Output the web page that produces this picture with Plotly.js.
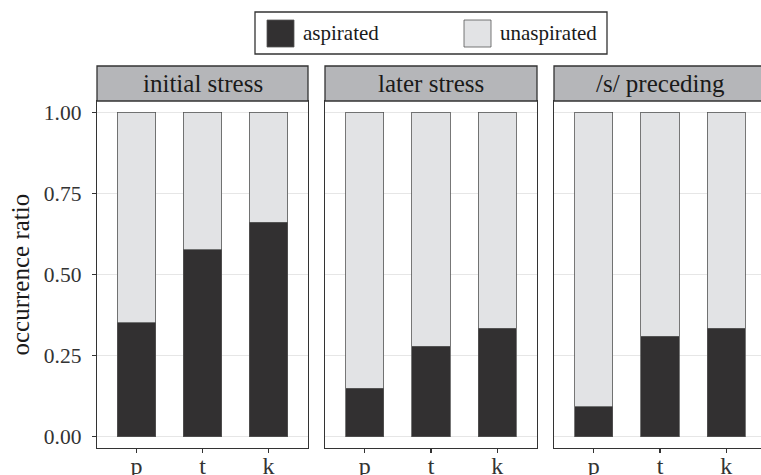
<!DOCTYPE html>
<html>
<head>
<meta charset="utf-8">
<script src="https://cdn.plot.ly/plotly-3.0.1.min.js"></script>
<style>
html,body{margin:0;padding:0;overflow:hidden;background:#fff;width:761px;height:475px;}
#chart{width:770px;height:475px;}
</style>
</head>
<body>
<div id="chart"></div>
<script>
// ---- data ----
const panels = ['initial stress', 'later stress', '/s/ preceding'];
const consonants = ['p', 't', 'k'];
const seriesNames = ['aspirated', 'unaspirated'];
const aspInitial = [0.351, 0.576, 0.661];
const unaspInitial = [0.649, 0.424, 0.339];
const aspLater = [0.150, 0.279, 0.334];
const unaspLater = [0.850, 0.721, 0.666];
const aspS = [0.092, 0.310, 0.334];
const unaspS = [0.908, 0.690, 0.666];
const yTickVals = [0, 0.25, 0.5, 0.75, 1];
const yTickText = ['0.00', '0.25', '0.50', '0.75', '1.00'];

// ---- styling ----
const W = 770, H = 475;
const FONT = 'Liberation Serif';
const colors = ['#323031', '#e2e3e5'];
const panelX = [[97, 308], [325, 537], [554, 766]];
const panelTop = 101, panelBot = 448, stripTop = 66;
const px = v => v / W;
const py = v => 1 - v / H;

const panelData = [[aspInitial, unaspInitial], [aspLater, unaspLater], [aspS, unaspS]];

const traces = [];
panelData.forEach((series, i) => {
  series.forEach((vals, s) => {
    traces.push({
      type: 'bar',
      x: consonants,
      y: vals,
      name: seriesNames[s],
      xaxis: 'x' + (i === 0 ? '' : i + 1),
      yaxis: 'y' + (i === 0 ? '' : i + 1),
      width: 0.58,
      marker: {color: colors[s], line: {color: '#555555', width: 0.8}},
      showlegend: false,
      hoverinfo: 'skip'
    });
  });
});

const layout = {
  width: W, height: H, autosize: false,
  margin: {l: 0, r: 0, t: 0, b: 0},
  paper_bgcolor: '#ffffff', plot_bgcolor: '#ffffff',
  barmode: 'stack',
  font: {family: FONT, color: '#333333'},
  shapes: [], annotations: []
};

panels.forEach((name, i) => {
  const sfx = i === 0 ? '' : String(i + 1);
  layout['xaxis' + sfx] = {
    domain: [px(panelX[i][0]), px(panelX[i][1])],
    anchor: 'y' + sfx,
    type: 'category',
    categoryorder: 'array', categoryarray: consonants,
    range: [-0.6, 2.6],
    showline: true, mirror: true, linecolor: '#333333', linewidth: 1.3,
    ticks: 'outside', ticklen: 4, tickwidth: 1.3, tickcolor: '#333333',
    ticklabelstandoff: -8,
    tickfont: {family: FONT, size: 24, color: '#333333'},
    showgrid: false, zeroline: false, fixedrange: true
  };
  layout['yaxis' + sfx] = {
    domain: [py(panelBot), py(panelTop)],
    anchor: 'x' + sfx,
    range: [-0.0348, 1.0348],
    tickvals: yTickVals, ticktext: yTickText,
    showticklabels: i === 0,
    ticks: i === 0 ? 'outside' : '',
    ticklen: 4, tickwidth: 1.3, tickcolor: '#333333',
    ticklabelstandoff: 6,
    tickfont: {family: FONT, size: 21.5, color: '#333333'},
    showgrid: true, gridcolor: '#e6e6e6', gridwidth: 1,
    showline: true, mirror: true, linecolor: '#333333', linewidth: 1.3,
    zeroline: false, fixedrange: true
  };
  layout.shapes.push({
    type: 'rect', xref: 'paper', yref: 'paper',
    x0: px(panelX[i][0]), x1: px(panelX[i][1]),
    y0: py(panelTop), y1: py(stripTop),
    fillcolor: '#b5b6b9', line: {color: '#333333', width: 1.3}
  });
  layout.annotations.push({
    xref: 'paper', yref: 'paper',
    x: px((panelX[i][0] + panelX[i][1]) / 2), y: py((stripTop + panelTop) / 2),
    xanchor: 'center', yanchor: 'middle', showarrow: false,
    text: name, font: {family: FONT, size: 25, color: '#1a1a1a'}
  });
});

// y axis title
layout.annotations.push({
  xref: 'paper', yref: 'paper', x: px(20), y: py((panelTop + panelBot) / 2),
  xanchor: 'center', yanchor: 'middle', showarrow: false, textangle: -90,
  text: 'occurrence ratio', font: {family: FONT, size: 25, color: '#1a1a1a'}
});

// legend (drawn from series names/colors)
const legBox = {x0: 255, x1: 607, y0: 12, y1: 54};
layout.shapes.push({
  type: 'rect', xref: 'paper', yref: 'paper',
  x0: px(legBox.x0), x1: px(legBox.x1), y0: py(legBox.y1), y1: py(legBox.y0),
  fillcolor: '#ffffff', line: {color: '#333333', width: 1.3}
});
const swX = [267, 464];
seriesNames.forEach((nm, s) => {
  layout.shapes.push({
    type: 'rect', xref: 'paper', yref: 'paper',
    x0: px(swX[s]), x1: px(swX[s] + 27), y0: py(47), y1: py(20),
    fillcolor: colors[s], line: {color: '#555555', width: 0.8}
  });
  layout.annotations.push({
    xref: 'paper', yref: 'paper', x: px(swX[s] + 34), y: py(33.5),
    xanchor: 'left', yanchor: 'middle', showarrow: false,
    text: nm, font: {family: FONT, size: 21, color: '#1a1a1a'}
  });
});

Plotly.newPlot('chart', traces, layout, {staticPlot: true, displayModeBar: false});
</script>
</body>
</html>
